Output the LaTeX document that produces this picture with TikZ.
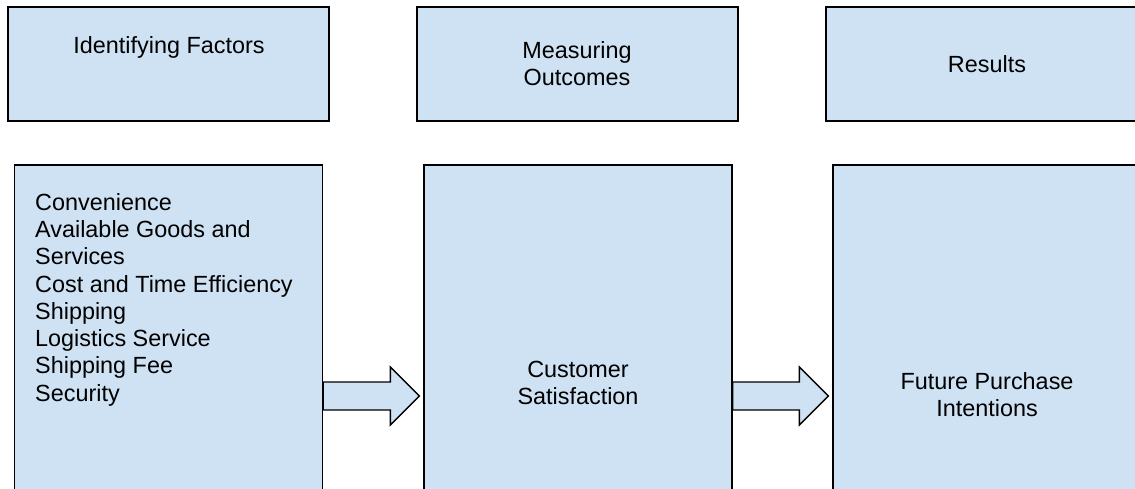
\documentclass[tikz,border=0pt]{standalone}
\usepackage{fontspec}
\setmainfont{Liberation Sans}
\usepackage{xcolor}
\usetikzlibrary{calc}
\definecolor{boxblue}{HTML}{CFE2F3}

\begin{document}
\begin{tikzpicture}[x=1pt, y=-1pt,
  font=\fontsize{23.4}{27.3}\selectfont,
  bx/.style={draw=black, fill=boxblue, line width=1.4pt, inner sep=0pt},
  head/.style={bx, minimum width=321pt, minimum height=114pt},
  col/.style={bx, minimum width=308pt, minimum height=462pt},
  txt/.style={inner sep=0pt, align=center, anchor=north},
  blk/.style={draw=black, fill=boxblue, line width=1.4pt, line join=miter}]
\useasboundingbox (0,0) rectangle (1135,488);

% top row: headings
\node[head] (idf) at (168.5, 64) {};
\node[head] (mea) at (577.5, 64) {};
\node[head] (res) at (986.5, 64) {};
\node[txt] (idft) at (169, 36) {Identifying Factors};
\node[txt] (meat) at (577, 41) {Measuring\\Outcomes};
\node[txt] (rest) at (987, 55) {Results};

% bottom row: long boxes, cut by the page edge
\node[col] (fac) at (168.5, 396) {};
\node[col] (sat) at (578, 396) {};
\node[col] (pur) at (987, 396) {};
\node[txt, align=left, anchor=north west] (fact) at (35, 193)
  {Convenience\\Available Goods and\\Services\\Cost and Time Efficiency\\
   Shipping\\Logistics Service\\Shipping Fee\\Security};
\node[txt] (satt) at (578, 361) {Customer\\Satisfaction};
\node[txt] (purt) at (987, 372) {Future Purchase\\Intentions};

% block arrows
\draw[blk] (fac.east) ++(0,-14) -- ($(sat.west)+(-33,-14)$) -- ++(0,-15)
  -- ($(sat.west)+(-4,0)$) -- ++(-29,29) -- ++(0,-15)
  -- ($(fac.east)+(0,14)$) -- cycle;
\draw[blk] (sat.east) ++(0,-14) -- ($(pur.west)+(-33,-14)$) -- ++(0,-15)
  -- ($(pur.west)+(-4,0)$) -- ++(-29,29) -- ++(0,-15)
  -- ($(sat.east)+(0,14)$) -- cycle;
\end{tikzpicture}
\end{document}
